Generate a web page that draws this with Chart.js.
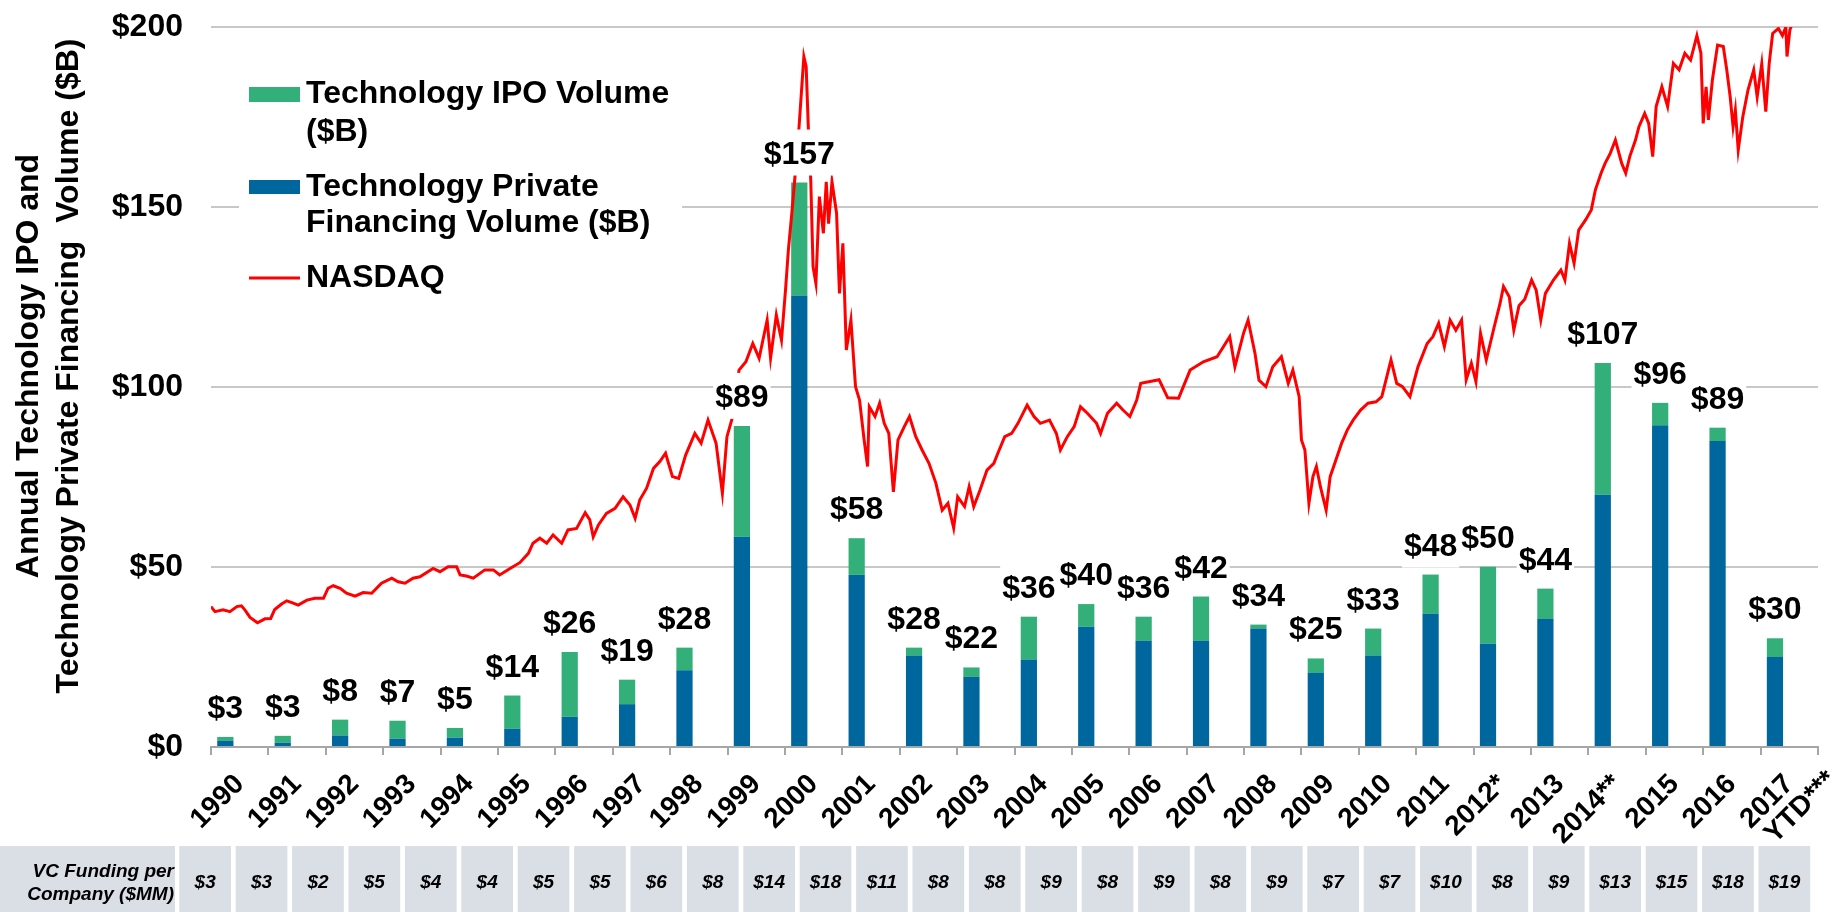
<!DOCTYPE html>
<html>
<head>
<meta charset="utf-8">
<title>Technology IPO and Private Financing Volume vs NASDAQ</title>
<script src="https://cdn.jsdelivr.net/npm/chart.js@4.4.1/dist/chart.umd.min.js"></script>
<style>
  html, body { margin: 0; padding: 0; background: #fff; }
  canvas { display: block; }
</style>
</head>
<body>
<canvas id="financing-chart" width="1848" height="912"></canvas>
<script>
const FAMILY = '"Liberation Sans", Arial, Helvetica, sans-serif';

// annual volumes, $B
const yearLabels = ['1990', '1991', '1992', '1993', '1994', '1995', '1996', '1997', '1998', '1999',
  '2000', '2001', '2002', '2003', '2004', '2005', '2006', '2007', '2008', '2009', '2010', '2011',
  '2012*', '2013', '2014**', '2015', '2016', '2017'];
const lastYearNote = 'YTD***';
const privateVolume = [1.8, 1.2, 3.2, 2.3, 2.6, 5.1, 8.4, 11.9, 21.3, 58.4, 125.4, 47.8, 25.4, 19.5,
  24.3, 33.4, 29.5, 29.5, 32.9, 20.6, 25.4, 37.0, 28.7, 35.6, 70.1, 89.4, 85.0, 25.0];
const ipoVolume = [1.0, 1.9, 4.4, 5.0, 2.7, 9.2, 18.0, 6.8, 6.3, 30.8, 31.4, 10.2, 2.2, 2.6,
  11.9, 6.3, 6.7, 12.3, 1.1, 4.0, 7.5, 10.9, 21.4, 8.4, 36.6, 6.2, 3.7, 5.2];

// NASDAQ, rescaled onto the volume axis (x = fractional year)
const nasdaqYear = [
  1990.00, 1990.07, 1990.21, 1990.33, 1990.45, 1990.53, 1990.59, 1990.68, 1990.81, 1990.94,
  1991.04, 1991.11, 1991.23, 1991.32, 1991.41, 1991.52, 1991.67, 1991.81, 1991.96,
  1992.04, 1992.13, 1992.25, 1992.36, 1992.51, 1992.65, 1992.80, 1992.97,
  1993.15, 1993.26, 1993.38, 1993.52, 1993.64, 1993.87, 1993.99,
  1994.13, 1994.28, 1994.34, 1994.45, 1994.57, 1994.77, 1994.92,
  1995.03, 1995.21, 1995.38, 1995.53, 1995.61, 1995.73, 1995.85, 1995.96,
  1996.11, 1996.22, 1996.37, 1996.52, 1996.60, 1996.66, 1996.75, 1996.89,
  1997.04, 1997.18, 1997.30, 1997.39, 1997.47, 1997.59, 1997.71, 1997.82, 1997.92,
  1998.04, 1998.15, 1998.27, 1998.43, 1998.54, 1998.66, 1998.80, 1998.91, 1998.99,
  1999.09, 1999.20, 1999.32, 1999.44, 1999.55, 1999.69, 1999.75, 1999.85, 1999.94,
  2000.01, 2000.06, 2000.12, 2000.17, 2000.24, 2000.33, 2000.37, 2000.41, 2000.45, 2000.49,
  2000.54, 2000.60, 2000.67, 2000.72, 2000.76, 2000.82, 2000.90, 2000.95,
  2001.01, 2001.07, 2001.15, 2001.23, 2001.30, 2001.38, 2001.44, 2001.47, 2001.57, 2001.65,
  2001.73, 2001.81, 2001.89, 2001.97,
  2002.08, 2002.17, 2002.28, 2002.39, 2002.51, 2002.63, 2002.74, 2002.84, 2002.94,
  2003.01, 2003.13, 2003.21, 2003.29, 2003.40, 2003.52, 2003.64, 2003.71, 2003.83, 2003.95,
  2004.06, 2004.22, 2004.34, 2004.45, 2004.61, 2004.73, 2004.80, 2004.92,
  2005.04, 2005.15, 2005.27, 2005.43, 2005.50, 2005.62, 2005.78, 2005.89,
  2006.01, 2006.13, 2006.20, 2006.52, 2006.67, 2006.86,
  2007.06, 2007.29, 2007.53, 2007.75, 2007.84, 2007.99,
  2008.07, 2008.19, 2008.26, 2008.38, 2008.50, 2008.65, 2008.77, 2008.85, 2008.96,
  2009.00, 2009.06, 2009.13, 2009.20, 2009.26, 2009.33, 2009.43, 2009.50, 2009.60, 2009.70,
  2009.80, 2009.90,
  2010.03, 2010.16, 2010.30, 2010.40, 2010.56, 2010.66, 2010.76, 2010.89,
  2011.03, 2011.19, 2011.29, 2011.39, 2011.49, 2011.59, 2011.69, 2011.79, 2011.87, 2011.96,
  2012.04, 2012.12, 2012.22, 2012.36, 2012.46, 2012.52, 2012.62, 2012.70, 2012.79, 2012.89,
  2013.01, 2013.09, 2013.17, 2013.25, 2013.39, 2013.52, 2013.59, 2013.67, 2013.75, 2013.83, 2013.95,
  2014.05, 2014.12, 2014.22, 2014.29, 2014.38, 2014.47, 2014.58, 2014.65, 2014.72, 2014.82,
  2014.88, 2014.98,
  2015.05, 2015.12, 2015.18, 2015.28, 2015.38, 2015.48, 2015.58, 2015.68, 2015.78, 2015.89, 2015.96,
  2016.00, 2016.05, 2016.09, 2016.16, 2016.25, 2016.35, 2016.41, 2016.47, 2016.52, 2016.56,
  2016.61, 2016.69, 2016.78, 2016.88, 2016.94,
  2017.02, 2017.09, 2017.15, 2017.21, 2017.31, 2017.38, 2017.44, 2017.46, 2017.51, 2017.54
];
const nasdaqLevel = [
  39.0, 37.6, 38.1, 37.6, 39.0, 39.2, 38.1, 36.0, 34.5, 35.6,
  35.7, 38.2, 39.7, 40.6, 40.1, 39.4, 40.8, 41.3, 41.3,
  44.1, 44.8, 44.1, 42.7, 41.9, 42.9, 42.7, 45.5,
  46.9, 45.9, 45.5, 46.9, 47.3, 49.6, 48.7,
  50.1, 50.1, 47.8, 47.5, 46.9, 49.2, 49.2,
  47.8, 49.6, 51.2, 53.8, 56.6, 58.0, 56.6, 58.9,
  56.6, 60.3, 60.7, 65.1, 63.1, 58.4, 61.7, 64.9,
  66.3, 69.5, 67.2, 63.5, 68.6, 71.9, 77.4, 79.3, 81.6,
  75.1, 74.6, 81.1, 87.1, 84.4, 90.8, 84.4, 70.5, 86.2,
  91.8, 104.7, 107.0, 112.1, 108.0, 118.6, 108.0, 120.0, 113.0,
  126.9, 138.0, 148.2, 157.5, 170.9, 191.8, 189.0, 171.0, 157.5, 133.4,
  128.8, 152.9, 142.7, 157.0, 145.4, 157.0, 148.2, 126.0,
  139.9, 110.3, 118.6, 100.1, 96.4, 85.3, 77.9, 94.5, 91.8, 95.5,
  89.9, 87.1, 70.9, 85.3,
  89.0, 91.8, 86.2, 82.5, 78.8, 73.3, 65.8, 67.7, 60.8,
  69.5, 66.8, 72.3, 66.8, 71.4, 76.9, 78.8, 81.6, 86.2, 87.1,
  89.9, 95.0, 91.8, 89.9, 90.8, 87.1, 82.5, 86.2,
  89.0, 94.5, 92.7, 89.9, 87.1, 92.7, 95.5, 93.6,
  91.8, 96.4, 101.0, 102.0, 97.0, 96.9,
  104.7, 107.0, 108.4, 114.0, 105.6, 114.9,
  118.6, 109.4, 101.9, 100.1, 105.6, 108.4, 101.0, 104.7, 97.3,
  85.3, 82.5, 67.7, 75.1, 77.9, 72.3, 65.8, 75.1, 79.7, 84.4,
  88.1, 90.8,
  93.6, 95.5, 95.9, 97.3, 107.5, 101.0, 100.1, 97.3,
  105.6, 112.1, 114.0, 117.7, 111.2, 118.6, 115.8, 118.6, 102.0, 106.6,
  101.5, 114.9, 107.5, 116.8, 123.2, 127.9, 125.1, 115.8, 122.6, 124.4,
  129.7, 126.9, 118.6, 126.0, 129.7, 132.5, 129.7, 139.9, 134.4, 143.6, 146.4,
  149.2, 154.7, 159.4, 162.1, 164.9, 168.6, 162.1, 159.4, 164.0, 168.6,
  172.3, 176.0,
  173.2, 164.0, 177.9, 183.4, 177.9, 189.9, 188.1, 192.7, 190.8, 197.6, 192.7,
  173.2, 183.4, 174.2, 185.3, 195.0, 194.6, 188.1, 180.6, 172.3, 176.9,
  165.8, 175.1, 182.5, 188.1, 180.6,
  189.8, 176.5, 189.9, 198.2, 199.6, 197.6, 200.0, 191.8, 199.2, 200.5
];

// VC funding per company, $MM (table under the axis)
const vcPerCompany = [3, 3, 2, 5, 4, 4, 5, 5, 6, 8, 14, 18, 11, 8, 8, 9, 8, 9, 8, 9, 7, 7, 10, 8, 9, 13, 15, 18, 19];

const yTitleLines = ['Annual Technology IPO and', 'Technology Private Financing  Volume ($B)'];

const GREEN = '#33AF7A';
const BLUE = '#00679E';
const RED = '#FF0000';
const CELL = '#D9DFE5';

// "$xx" totals above each stack, on a white box that hides the line behind
const stackTotals = {
  id: 'stackTotals',
  afterDatasetsDraw(chart) {
    const ctx = chart.ctx;
    const top = chart.getDatasetMeta(1);
    ctx.save();
    ctx.font = '700 32px ' + FAMILY;
    ctx.textAlign = 'center';
    ctx.textBaseline = 'alphabetic';
    top.data.forEach((bar, i) => {
      const text = '$' + Math.round(privateVolume[i] + ipoVolume[i]);
      const w = ctx.measureText(text).width;
      const base = bar.y - 19;
      ctx.fillStyle = '#fff';
      ctx.fillRect(bar.x - w / 2 - 2, base - 34, w + 4, 46);
      ctx.fillStyle = '#000';
      ctx.fillText(text, bar.x, base);
    });
    ctx.restore();
  }
};

// axis title, legend, second line of the last year label and the VC funding table
const sidePanels = {
  id: 'sidePanels',
  afterDraw(chart) {
    const ctx = chart.ctx;
    const xs = chart.scales.x;
    ctx.save();

    ctx.fillStyle = '#000';
    ctx.font = '700 32px ' + FAMILY;
    ctx.textAlign = 'center';
    ctx.textBaseline = 'middle';
    yTitleLines.forEach((line, i) => {
      ctx.save();
      ctx.translate(29 + i * 40, 366);
      ctx.rotate(-Math.PI / 2);
      ctx.fillText(line, 0, 0);
      ctx.restore();
    });

    // legend
    ctx.fillStyle = '#fff';
    ctx.fillRect(239, 62, 443, 238);
    const ds = chart.data.datasets;
    ctx.fillStyle = ds[1].backgroundColor;
    ctx.fillRect(249, 87, 51, 15);
    ctx.fillStyle = ds[0].backgroundColor;
    ctx.fillRect(249, 180, 51, 14);
    ctx.strokeStyle = ds[2].borderColor;
    ctx.lineWidth = 3;
    ctx.beginPath();
    ctx.moveTo(249, 278);
    ctx.lineTo(300, 278);
    ctx.stroke();
    ctx.fillStyle = '#000';
    ctx.textAlign = 'left';
    [['Technology IPO Volume', 94], ['($B)', 132], ['Technology Private', 187],
     ['Financing Volume ($B)', 223], ['NASDAQ', 278]].forEach(([t, y]) => ctx.fillText(t, 306, y));

    // "YTD***" under the 2017 tick
    const lastX = xs.getPixelForValue(yearLabels.length - 1);
    ctx.save();
    ctx.font = '700 28px ' + FAMILY;
    ctx.textAlign = 'right';
    ctx.translate(lastX + 43, xs.top + 29);
    ctx.rotate(-Math.PI / 4);
    ctx.fillText(lastYearNote, 0, 0);
    ctx.restore();

    // table
    const cellTop = 846, cellH = 66;
    ctx.fillStyle = CELL;
    ctx.fillRect(0, cellTop, 175, cellH);
    ctx.fillStyle = '#000';
    ctx.font = 'italic 700 19px ' + FAMILY;
    ctx.textAlign = 'right';
    ctx.fillText('VC Funding per', 174, 872);
    ctx.fillText('Company ($MM)', 174, 895);
    ctx.textAlign = 'center';
    vcPerCompany.forEach((v, i) => {
      const x = 179.3 + i * 56.4;
      ctx.fillStyle = CELL;
      ctx.fillRect(x, cellTop, 51.7, cellH);
      ctx.fillStyle = '#000';
      ctx.fillText('$' + v, x + 25.85, 883);
    });

    ctx.restore();
  }
};

Chart.defaults.font.family = FAMILY;
Chart.defaults.color = '#000';

new Chart(document.getElementById('financing-chart'), {
  type: 'bar',
  data: {
    labels: yearLabels,
    datasets: [
      {
        label: 'Technology Private Financing Volume ($B)',
        data: privateVolume,
        backgroundColor: BLUE,
        categoryPercentage: 1,
        barPercentage: 0.566,
        order: 1
      },
      {
        label: 'Technology IPO Volume ($B)',
        data: ipoVolume,
        backgroundColor: GREEN,
        categoryPercentage: 1,
        barPercentage: 0.566,
        order: 1
      },
      {
        type: 'line',
        label: 'NASDAQ',
        data: nasdaqYear.map((t, i) => ({ x: t, y: nasdaqLevel[i] })),
        xAxisID: 'x2',
        borderColor: RED,
        borderWidth: 3,
        pointRadius: 0,
        tension: 0,
        order: 0
      }
    ]
  },
  options: {
    responsive: false,
    devicePixelRatio: 1,
    animation: false,
    layout: { padding: { top: 27, right: 30, bottom: 0, left: 0 } },
    plugins: {
      legend: { display: false },
      tooltip: { enabled: false }
    },
    scales: {
      x: {
        stacked: true,
        offset: true,
        grid: {
          drawOnChartArea: false,
          tickLength: 8,
          color: '#A6A6A6',
          lineWidth: 2
        },
        border: { display: true, color: '#A6A6A6', width: 2 },
        ticks: {
          autoSkip: false,
          minRotation: 45,
          maxRotation: 45,
          padding: 13,
          color: '#000',
          font: { size: 28, weight: 'bold' }
        },
        afterFit(scale) {
          scale.height = 165;
          scale.paddingLeft = 0;
          scale.paddingRight = 0;
        }
      },
      x2: {
        type: 'linear',
        display: false,
        min: 1990,
        max: 2018,
        offset: false
      },
      y: {
        stacked: true,
        min: 0,
        max: 200,
        border: { display: false },
        grid: { color: '#C8C8C8', lineWidth: 2, drawTicks: false },
        ticks: {
          stepSize: 50,
          padding: 28,
          color: '#000',
          font: { size: 32, weight: 'bold' },
          callback: v => '$' + v
        },
        afterFit(scale) {
          scale.width = 211;
          scale.paddingTop = 0;
          scale.paddingBottom = 0;
        }
      }
    }
  },
  plugins: [stackTotals, sidePanels]
});
</script>
</body>
</html>
